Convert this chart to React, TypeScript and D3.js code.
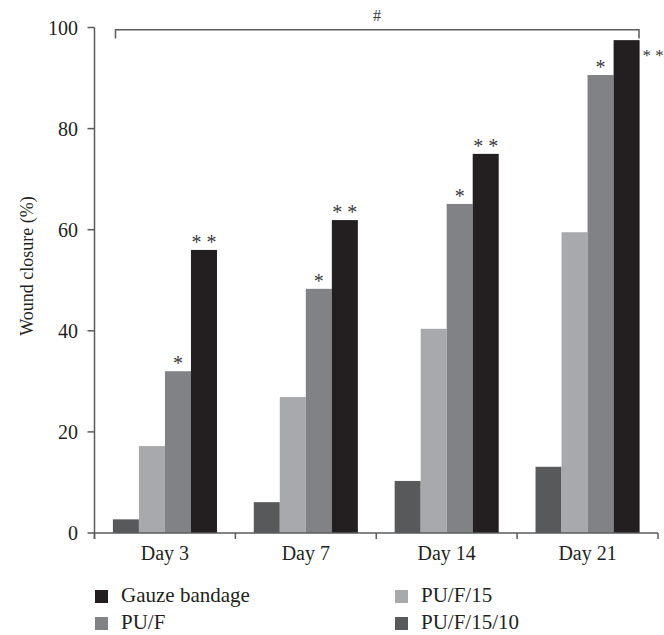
import * as d3 from 'd3';

const categories = ['Day 3', 'Day 7', 'Day 14', 'Day 21'];
const seriesNames = ['PU/F/15/10', 'PU/F/15', 'PU/F', 'Gauze bandage'];
const puf1510 = [2.7, 6.1, 10.3, 13.1];
const puf15 = [17.2, 26.9, 40.4, 59.5];
const puf = [32.0, 48.3, 65.1, 90.6];
const gauze = [56.0, 61.9, 75.0, 97.5];
const pufMarks = ['*', '*', '*', '*'];
const gauzeMarks = ['* *', '* *', '* *', '* *'];
const yTicks = [0, 20, 40, 60, 80, 100];
const legendOrder = ['Gauze bandage', 'PU/F', 'PU/F/15', 'PU/F/15/10'];

const colors: Record<string, string> = {
  'PU/F/15/10': '#58595b',
  'PU/F/15': '#a7a9ac',
  'PU/F': '#808285',
  'Gauze bandage': '#231f20',
};

const font = '"Liberation Serif", "DejaVu Serif", serif';
const axisColor = '#5a5b5d';

export default function App() {
  const width = 664;
  const height = 635;

  const values = [puf1510, puf15, puf, gauze];

  const x = d3.scaleBand().domain(categories).range([94.5, 658]).padding(0);
  const inner = d3
    .scaleBand()
    .domain(seriesNames)
    .range([0, x.bandwidth()])
    .paddingInner(0)
    .paddingOuter(0.707);
  const y = d3.scaleLinear().domain([0, 100]).range([533, 27.5]);

  const boundaries = categories.map((c) => x(c) as number).concat([x.range()[1]]);

  return (
    <svg
      width={width}
      height={height}
      style={{ position: 'absolute', left: 0, top: 0, background: '#fff' }}
      fontFamily={font}
    >
      {/* bars */}
      {categories.map((c, ci) => (
        <g key={c} transform={`translate(${x(c)},0)`}>
          {seriesNames.map((s, si) => (
            <rect
              key={s}
              x={inner(s)}
              y={y(values[si][ci])}
              width={inner.bandwidth()}
              height={y(0) - y(values[si][ci])}
              fill={colors[s]}
            />
          ))}
          <text
            x={(inner('PU/F') as number) + inner.bandwidth() / 2}
            y={y(puf[ci]) - 1}
            textAnchor="middle"
            fontSize={20}
            fill="#3a3a3c"
          >
            {pufMarks[ci]}
          </text>
          {ci < categories.length - 1 ? (
            <text
              x={(inner('Gauze bandage') as number) + inner.bandwidth() / 2}
              y={y(gauze[ci]) - 1}
              textAnchor="middle"
              fontSize={20}
              fill="#3a3a3c"
            >
              {gauzeMarks[ci]}
            </text>
          ) : (
            <text
              x={(inner('Gauze bandage') as number) + inner.bandwidth() + 3}
              y={y(gauze[ci]) + 21}
              textAnchor="start"
              fontSize={17}
              fill="#3a3a3c"
            >
              {gauzeMarks[ci]}
            </text>
          )}
        </g>
      ))}

      {/* y axis */}
      <line x1={94.5} x2={94.5} y1={y(100)} y2={539} stroke={axisColor} strokeWidth={1.5} />
      {yTicks.map((t) => (
        <g key={t}>
          <line x1={87.5} x2={94.5} y1={y(t)} y2={y(t)} stroke={axisColor} strokeWidth={1.5} />
          <text x={78} y={y(t) + 7} textAnchor="end" fontSize={20} fill="#231f20">
            {t}
          </text>
        </g>
      ))}
      <text
        transform={`translate(33,266) rotate(-90)`}
        textAnchor="middle"
        fontSize={18}
        fill="#231f20"
      >
        Wound closure (%)
      </text>

      {/* x axis */}
      <line x1={94.5} x2={658} y1={y(0)} y2={y(0)} stroke={axisColor} strokeWidth={1.5} />
      {boundaries.map((b, i) => (
        <line key={i} x1={b} x2={b} y1={y(0)} y2={539} stroke={axisColor} strokeWidth={1.5} />
      ))}
      {categories.map((c) => (
        <text
          key={c}
          x={(x(c) as number) + x.bandwidth() / 2}
          y={560}
          textAnchor="middle"
          fontSize={20}
          fill="#231f20"
        >
          {c}
        </text>
      ))}

      {/* significance bracket */}
      <path
        d={`M115.5,38.5 V29.7 H639 V38.5`}
        fill="none"
        stroke={axisColor}
        strokeWidth={1.5}
      />
      <text x={377} y={21} textAnchor="middle" fontSize={16} fill="#3a3a3c">
        #
      </text>

      {/* legend */}
      {legendOrder.map((s, i) => {
        const col = i < 2 ? 0 : 1;
        const row = i % 2;
        const lx = col === 0 ? 95 : 395;
        const ly = 590 + row * 27;
        return (
          <g key={s}>
            <rect x={lx} y={ly} width={13} height={13} fill={colors[s]} />
            <text x={lx + 26} y={ly + 12} fontSize={21} fill="#231f20">
              {s}
            </text>
          </g>
        );
      })}
    </svg>
  );
}
